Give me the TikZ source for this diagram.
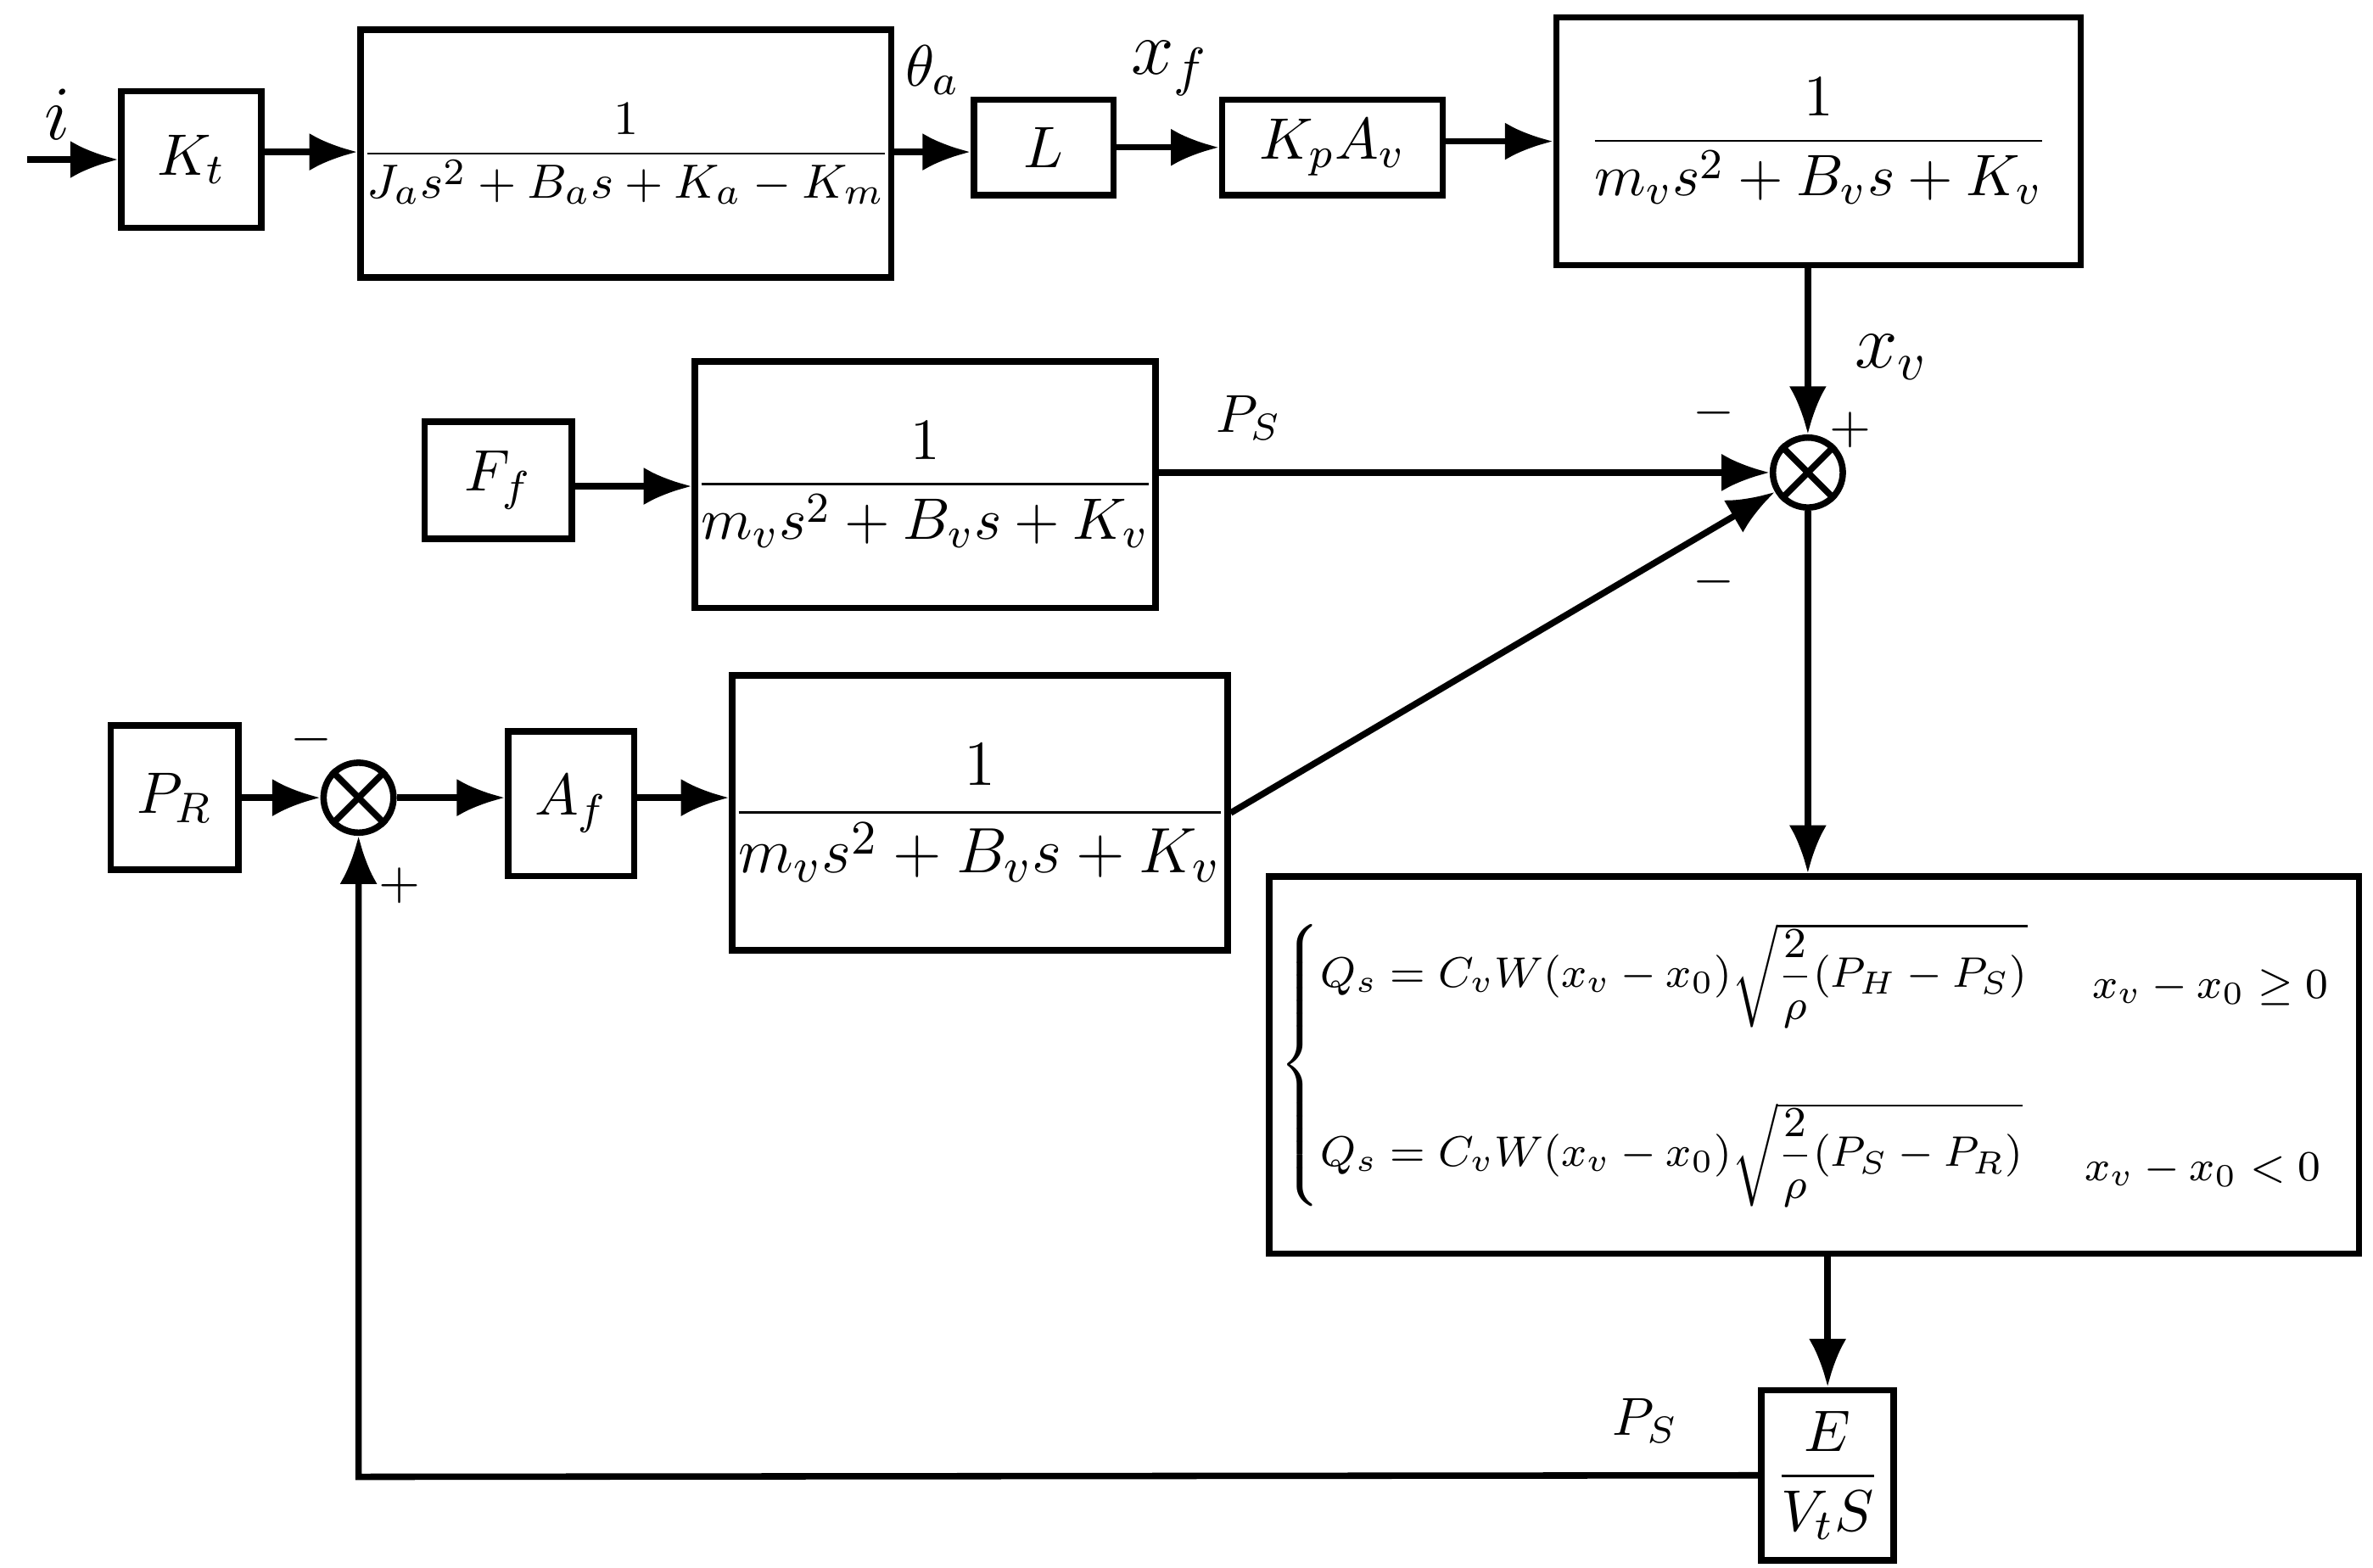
\documentclass[tikz,border=0pt]{standalone}
\usepackage{amsmath}
\usetikzlibrary{arrows.meta}
\begin{document}
\begin{tikzpicture}[x=0.01cm,y=-0.01cm,
  blk/.style={draw,line width=1.2pt,inner sep=0pt},
  sumc/.style={draw,circle,line width=1.2pt,minimum size=0.46cm,inner sep=0pt},
  ar/.style={-{Latex[length=9pt,width=7pt]},line width=1.2pt},
  lab/.style={font=\fontsize{10}{12}\selectfont},
  big/.style={font=\fontsize{11}{13}\selectfont}]
\useasboundingbox (0,0) rectangle (1562,1032);
% blocks
\node[blk,minimum width=0.92cm,minimum height=0.9cm,big] (kt) at (126,105) {$K_t$};
\node[blk,minimum width=3.45cm,minimum height=1.63cm,font=\fontsize{9.5}{12}\selectfont] (ja) at (412,101) {$\dfrac{1}{J_as^2+B_as+K_a-K_m}$};
\node[blk,minimum width=0.92cm,minimum height=0.63cm,big] (L) at (687,97) {$L$};
\node[blk,minimum width=1.45cm,minimum height=0.63cm,big] (kp) at (877,97) {$K_pA_v$};
\node[blk,minimum width=3.45cm,minimum height=1.63cm,big] (m1) at (1197,93) {$\dfrac{1}{m_vs^2+B_vs+K_v}$};
\node[blk,minimum width=0.97cm,minimum height=0.77cm,big] (ff) at (328,316) {$F_f$};
\node[blk,minimum width=2.98cm,minimum height=1.62cm,big] (m2) at (609,319) {$\dfrac{1}{m_vs^2+B_vs+K_v}$};
\node[sumc] (s1) at (1190,311) {};
\draw[line width=1.2pt] (s1.north west)--(s1.south east) (s1.north east)--(s1.south west);
\node[blk,minimum width=0.84cm,minimum height=0.95cm,big] (pr) at (115,525) {$P_R$};
\node[sumc] (s2) at (236,525) {};
\draw[line width=1.2pt] (s2.north west)--(s2.south east) (s2.north east)--(s2.south west);
\node[blk,minimum width=0.83cm,minimum height=0.95cm,big] (af) at (376,529) {$A_f$};
\node[blk,minimum width=3.25cm,minimum height=1.81cm,font=\fontsize{12.5}{15}\selectfont] (m3) at (645,535) {$\dfrac{1}{m_vs^2+B_vs+K_v}$};
\node[blk,minimum width=7.17cm,minimum height=2.48cm] (q) at (1194,701) {};
\node[anchor=west,inner sep=0pt,font=\fontsize{8.5}{10}\selectfont] (qt) at (842,701) {$\begin{cases}
Q_s=C_vW(x_v-x_0)\sqrt{\dfrac{2}{\rho}(P_H-P_S)}\\[18pt]
Q_s=C_vW(x_v-x_0)\sqrt{\dfrac{2}{\rho}(P_S-P_R)}
\end{cases}$};
\node[anchor=east,font=\fontsize{8.5}{10}\selectfont] (c1) at (1545,650) {$x_v-x_0\ge 0$};
\node[anchor=east,font=\fontsize{8.5}{10}\selectfont] (c2) at (1540,770) {$x_v-x_0<0$};
\node[blk,minimum width=0.87cm,minimum height=1.12cm,big] (e) at (1203,971) {$\dfrac{E}{V_tS}$};
\coordinate (i0) at (18,105);
% arrows
\draw[ar] (i0)--(kt);
\node[font=\fontsize{14}{16}\selectfont] at (38,75) {$i$};
\draw[ar] (kt.east |- 0,100)--(ja.west |- 0,100);
\draw[ar] (ja.east |- 0,100)--(L.west |- 0,100);
\node[big] at (614,46) {$\theta_a$};
\draw[ar] (L)--(kp);
\node[font=\fontsize{14}{16}\selectfont] at (770,45) {$x_f$};
\draw[ar] (kp.east |- 0,93)--(m1.west |- 0,93);
\draw[ar] (m1.south -| s1)--(s1);
\node[font=\fontsize{14}{16}\selectfont] at (1245,235) {$x_v$};
\draw[ar] (ff.east |- 0,320)--(m2.west |- 0,320);
\draw[ar] (m2.east |- s1)--(s1);
\node[lab] at (822,275) {$P_S$};
\node[lab] at (1128,272) {$-$};
\node[lab] at (1218,283) {$+$};
\draw[ar] (m3.east)--(s1);
\node[lab] at (1128,383) {$-$};
\draw[ar] (s1)--(s1 |- q.north);
\draw[ar] (e.north |- q.south)--(e.north);
\draw[ar] (e.west)--(236,972)--(s2);
\node[lab] at (1083,935) {$P_S$};
\draw[ar] (pr)--(s2);
\node[lab] at (205,487) {$-$};
\node[lab] at (263,583) {$+$};
\draw[ar] (s2)--(af.west |- s2);
\draw[ar] (af.east |- s2)--(m3.west |- s2);
\end{tikzpicture}
\end{document}
